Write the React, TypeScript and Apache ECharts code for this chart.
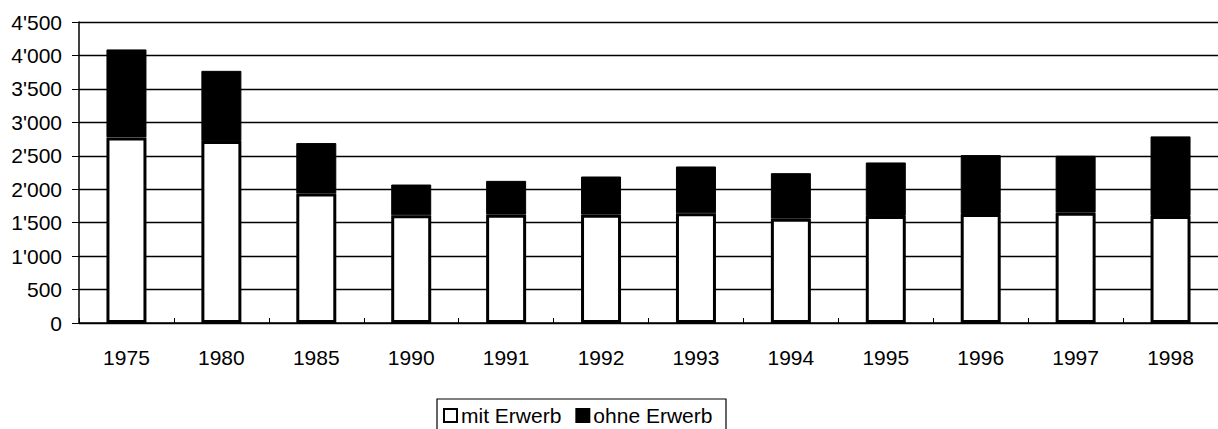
import React, { useEffect, useRef } from "react";
import * as echarts from "echarts";

const years = ["1975", "1980", "1985", "1990", "1991", "1992", "1993", "1994", "1995", "1996", "1997", "1998"];
const mitErwerb = [2775, 2720, 1935, 1610, 1620, 1620, 1640, 1560, 1600, 1630, 1650, 1600];
const ohneErwerb = [1315, 1050, 755, 460, 505, 570, 700, 680, 800, 880, 850, 1190];
const yTickLabels = ["0", "500", "1'000", "1'500", "2'000", "2'500", "3'000", "3'500", "4'000", "4'500"];
const seriesNames = ["mit Erwerb", "ohne Erwerb"];

export default function App() {
  const ref = useRef<HTMLDivElement>(null);
  useEffect(() => {
    if (!ref.current) return;
    document.body.style.margin = "0";
    document.body.style.overflow = "hidden";
    const chart = echarts.init(ref.current, null, { renderer: "svg" });
    const font = "Arial, 'Liberation Sans', sans-serif";
    chart.setOption({
      animation: false,
      backgroundColor: "#ffffff",
      grid: { left: 79, right: 0, top: 22, bottom: 106, containLabel: false },
      legend: {
        data: seriesNames,
        left: 443,
        top: 405,
        icon: "rect",
        itemWidth: 13,
        itemHeight: 13,
        itemGap: 14,
        padding: 0,
        textStyle: { fontFamily: font, fontSize: 21, color: "#000", padding: [0, 0, 0, -1] },
      },
      graphic: [
        {
          type: "rect",
          shape: { x: 437, y: 399, width: 289, height: 40 },
          style: { fill: "none", stroke: "#000", lineWidth: 1.2 },
          silent: true,
        },
      ],
      xAxis: {
        type: "category",
        data: years,
        axisLine: { show: true, lineStyle: { color: "#000", width: 1.5 } },
        axisTick: { show: true, inside: true, length: 5, alignWithLabel: false, lineStyle: { color: "#000" } },
        axisLabel: { fontFamily: font, fontSize: 21, color: "#000", margin: 24 },
        splitLine: { show: false },
      },
      yAxis: {
        type: "value",
        min: 0,
        max: 4500,
        interval: 500,
        axisLine: { show: true, lineStyle: { color: "#000", width: 1.5 } },
        axisTick: { show: true, inside: false, length: 7, lineStyle: { color: "#000" } },
        axisLabel: {
          fontFamily: font,
          fontSize: 21,
          color: "#000",
          margin: 17,
          formatter: (v: number) => yTickLabels[Math.round(v / 500)] ?? String(v),
        },
        splitLine: { show: true, lineStyle: { color: "#000", width: 1.3 } },
      },
      series: [
        {
          name: seriesNames[0],
          type: "bar",
          stack: "total",
          barWidth: 40,
          data: mitErwerb,
          itemStyle: { color: "#ffffff", borderColor: "#000", borderWidth: 3 },
        },
        {
          name: seriesNames[1],
          type: "bar",
          stack: "total",
          barWidth: 40,
          data: ohneErwerb,
          itemStyle: { color: "#000000", borderColor: "#000", borderWidth: 1 },
        },
      ],
    });
    return () => chart.dispose();
  }, []);
  return <div ref={ref} style={{ position: "fixed", left: 0, top: 0, width: 1218, height: 429 }} />;
}
